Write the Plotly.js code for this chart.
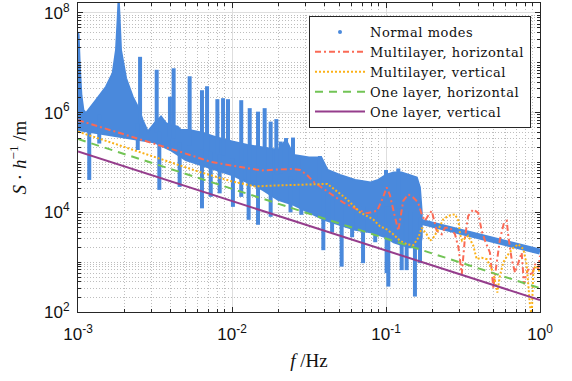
<!DOCTYPE html>
<html><head><meta charset="utf-8">
<script src="https://cdn.plot.ly/plotly-3.0.1.min.js"></script>
<style>html,body{margin:0;padding:0;background:#fff}#chart{width:572px;height:381px}
.legendtext{letter-spacing:0.55px}</style>
</head><body><div id="chart"></div>
<script>
// ---- Data (log10 values of f [Hz] and S [h^-1 m]) ----
// Normal modes: dense cloud, described by its core band, its peaks/dips and its high-f tail
const nmUpperLogF = [-3.0,-2.996,-2.988,-2.978,-2.965,-2.948,-2.883,-2.818,-2.775,-2.753,-2.742,-2.736,-2.730,-2.721,-2.688,-2.645,-2.612,-2.580,-2.547,-2.50,-2.461,-2.429,-2.40,-2.353,-2.331,-2.28,-2.2,-2.1,-2.0,-1.9,-1.8,-1.7,-1.65,-1.6,-1.5,-1.42,-1.38,-1.3,-1.2,-1.1,-1.05,-1.0,-0.95,-0.9,-0.85,-0.8,-0.78,-0.768];
const nmUpperLogS = [7.62,7.55,6.9,6.35,6.05,5.99,6.25,6.52,6.79,7.26,7.9,8.3,7.9,7.26,6.69,6.32,6.12,5.85,5.62,5.80,5.92,5.79,5.75,5.72,5.65,5.65,5.6,5.5,5.42,5.35,5.3,5.25,5.45,5.15,5.1,5.1,4.85,4.75,4.65,4.6,4.65,4.75,4.8,4.8,4.75,4.7,4.5,4.0];
const nmLowerLogF = [-3.0,-2.9,-2.8,-2.7,-2.6,-2.5,-2.4,-2.3,-2.2,-2.1,-2.0,-1.9,-1.8,-1.7,-1.6,-1.5,-1.4,-1.3,-1.2,-1.1,-1.0,-0.95,-0.85,-0.78,-0.768];
const nmLowerLogS = [5.65,5.6,5.55,5.5,5.45,5.4,5.25,5.05,4.95,4.85,4.75,4.6,4.45,4.25,4.15,4.0,3.85,3.75,3.65,3.6,3.5,3.4,3.3,3.3,3.5];
const nmPeakLogF = [-2.597,-2.489,-2.403,-2.379,-2.275,-2.195,-2.162,-2.095,-2.058,-2.026,-1.940,-1.885,-1.831,-1.788,-1.749,-1.712,-1.684,-1.649,-1.604,-1.569,-1.429,-1.0,-0.92];
const nmPeakLogS = [7.12,6.86,6.32,6.89,6.73,6.45,6.53,6.27,6.29,6.27,6.25,6.09,6.02,6.09,5.82,5.87,5.42,5.49,5.5,5.08,5.13,4.85,4.88];
const nmDipLogF = [-2.927,-2.862,-2.612,-2.472,-2.385,-2.340,-2.195,-2.138,-2.080,-1.994,-1.940,-1.892,-1.831,-1.749,-1.62,-1.55,-1.407,-1.35,-1.288,-1.22,-1.149,-1.07,-0.996,-0.985,-0.898,-0.866,-0.812,-0.779];
const nmDipLogS = [4.65,5.38,5.25,4.45,5.32,4.51,4.08,4.31,4.38,4.11,4.31,3.85,3.75,3.91,4.0,3.95,3.24,3.6,2.91,3.5,2.98,3.4,2.78,2.51,2.84,2.84,2.31,2.98];
const nmTailLogF = [-0.77,-0.6,-0.45,-0.3,-0.15,0.0];
const nmTailLogS = [3.81,3.68,3.57,3.44,3.33,3.21];

// Multilayer, horizontal
const mlhLogF = [-3.0,-2.7,-2.5,-2.331,-2.136,-2.0,-1.9,-1.81,-1.7,-1.6,-1.558,-1.513,-1.474,-1.429,-1.383,-1.344,-1.279,-1.188,-1.123,-1.058,-1.019,-0.996,-0.975,-0.945,-0.920,-0.888,-0.855,-0.825,-0.792,-0.768,-0.747,-0.727,-0.703,-0.671,-0.638,-0.617,-0.584,-0.552,-0.53,-0.508,-0.487,-0.466,-0.433,-0.401,-0.379,-0.357,-0.325,-0.303,-0.281,-0.260,-0.234,-0.216,-0.206,-0.184,-0.162,-0.141,-0.119,-0.104,-0.09,-0.076,-0.054,-0.032,-0.011,0];
const mlhLogS = [5.85,5.57,5.38,5.21,5.01,4.94,4.88,4.84,4.86,4.87,4.85,4.75,4.62,4.52,4.43,4.33,4.2,4.06,3.98,4.03,4.3,4.5,4.35,3.95,3.63,4.23,4.36,4.3,4.2,3.96,3.83,3.93,4.03,3.63,3.56,3.69,3.69,3.56,3.3,2.76,3.5,3.93,4.06,3.99,3.63,3.43,3.19,2.49,3.0,3.46,3.79,3.83,3.53,3.06,2.79,3.0,3.19,2.56,2.75,2.86,2.73,2.96,2.86,3.13];
// Multilayer, vertical
const mlvLogF = [-3.0,-2.5,-2.2,-2.0,-1.85,-1.7,-1.5,-1.38,-1.318,-1.253,-1.169,-1.084,-1.039,-0.996,-0.953,-0.909,-0.866,-0.823,-0.790,-0.768,-0.736,-0.714,-0.693,-0.660,-0.628,-0.595,-0.552,-0.530,-0.519,-0.506,-0.466,-0.433,-0.411,-0.379,-0.346,-0.325,-0.303,-0.277,-0.260,-0.238,-0.206,-0.173,-0.141,-0.108,-0.087,-0.065,-0.054,-0.043,-0.022,0];
const mlvLogS = [5.62,5.11,4.80,4.62,4.52,4.54,4.56,4.57,4.42,4.26,4.0,3.86,3.72,3.66,3.56,3.43,3.36,3.34,3.49,3.69,3.56,3.43,3.49,3.66,3.86,3.93,3.96,3.83,3.56,3.43,3.53,3.33,3.06,3.09,3.06,2.93,2.79,2.39,2.73,3.0,3.16,3.29,3.36,3.26,2.96,2.13,1.9,2.86,2.93,2.79];
// One layer, horizontal / vertical (straight lines on log-log axes)
const olhF = [1e-3, 1];
const olhS = [2.95e5, 300];
const olvF = [1e-3, 1];
const olvS = [1.66e5, 174];

// Axis ticks
const xTickVals = [1e-3, 1e-2, 1e-1, 1];
const xTickText = ['10<sup>-3</sup>','10<sup>-2</sup>','10<sup>-1</sup>','10<sup>0</sup>'];
const yTickVals = [1e2, 1e4, 1e6, 1e8];
const yTickText = ['10<sup>2</sup>','10<sup>4</sup>','10<sup>6</sup>','10<sup>8</sup>'];

// ---- build ----
const p10 = v => Math.pow(10, v);
const BLUE = '#4a89dc';

const bandX = nmUpperLogF.concat(nmLowerLogF.slice().reverse()).map(p10);
const bandY = nmUpperLogS.concat(nmLowerLogS.slice().reverse()).map(p10);

function interp(xa, ya, x) {
  for (let i = 0; i < xa.length - 1; i++) {
    if (x >= xa[i] && x <= xa[i+1]) {
      const t = (x - xa[i]) / (xa[i+1] - xa[i] || 1);
      return ya[i] + t * (ya[i+1] - ya[i]);
    }
  }
  return ya[ya.length - 1];
}
const midBand = lf => 0.5 * (interp(nmUpperLogF, nmUpperLogS, lf) + interp(nmLowerLogF, nmLowerLogS, lf));
function segs(fArr, tipArr) {
  const xs = [], ys = [];
  fArr.forEach((lf, i) => {
    xs.push(p10(lf), p10(lf), null);
    ys.push(p10(midBand(lf)), p10(tipArr[i]), null);
  });
  return {xs, ys};
}
const peaks = segs(nmPeakLogF, nmPeakLogS);
const dips = segs(nmDipLogF, nmDipLogS);

const traces = [
  {x: bandX, y: bandY, mode: 'lines', fill: 'toself', fillcolor: BLUE,
   line: {color: BLUE, width: 2}, showlegend: false, hoverinfo: 'skip'},
  {x: peaks.xs, y: peaks.ys, mode: 'lines', line: {color: BLUE, width: 4}, showlegend: false, connectgaps: false},
  {x: dips.xs, y: dips.ys, mode: 'lines', line: {color: BLUE, width: 4}, showlegend: false, connectgaps: false},
  {x: nmTailLogF.map(p10), y: nmTailLogS.map(p10), mode: 'lines', line: {color: BLUE, width: 6}, showlegend: false},
  {x: [null], y: [null], mode: 'markers', name: 'Normal modes', marker: {color: BLUE, size: 4}},
  {x: mlhLogF.map(p10), y: mlhLogS.map(p10), mode: 'lines', name: 'Multilayer, horizontal',
   line: {color: '#fa6a55', width: 2, dash: '6px,3px,2px,3px'}},
  {x: mlvLogF.map(p10), y: mlvLogS.map(p10), mode: 'lines', name: 'Multilayer, vertical',
   line: {color: '#fbb117', width: 2, dash: '2px,2px'}},
  {x: olhF, y: olhS, mode: 'lines', name: 'One layer, horizontal',
   line: {color: '#72c455', width: 2, dash: '8px,6px'}},
  {x: olvF, y: olvS, mode: 'lines', name: 'One layer, vertical',
   line: {color: '#953d8c', width: 2}}
];

const xMinor = [];
for (let d = -3; d <= -1; d++) for (let k = 2; k <= 9; k++) xMinor.push(k * Math.pow(10, d));
const yMinor = [];
for (let d = 2; d <= 8; d++) for (let k = 1; k <= 9; k++) { if (k === 1 && d % 2 === 0) continue; yMinor.push(k * Math.pow(10, d)); }

const AX = '#262626';
const axisCommon = {
  type: 'log', showline: true, linecolor: AX, linewidth: 1, mirror: 'allticks',
  ticks: 'inside', ticklen: 5, tickcolor: AX, tickwidth: 1,
  showgrid: true, gridcolor: '#dedede', gridwidth: 1, zeroline: false,
  tickfont: {family: 'Liberation Sans, Arial, sans-serif', size: 17, color: '#111'},
  tickmode: 'array'
};
const minorCommon = {tickmode: 'array', ticks: 'inside', ticklen: 3, tickcolor: AX,
  showgrid: true, gridcolor: '#bdbdbd', griddash: '1px,2px', gridwidth: 1};

const layout = {
  width: 572, height: 381,
  margin: {l: 78, r: 32, t: 3, b: 69},
  paper_bgcolor: '#fff', plot_bgcolor: '#fff',
  showlegend: true,
  xaxis: Object.assign({}, axisCommon, {
    range: [-3, 0], tickvals: xTickVals, ticktext: xTickText, ticklabelstandoff: 7,
    minor: Object.assign({tickvals: xMinor}, minorCommon),
    title: {text: '<i>f</i> /Hz', font: {family: 'Liberation Serif, serif', size: 19, color: '#111'}, standoff: 10}
  }),
  yaxis: Object.assign({}, axisCommon, {
    range: [2, 8.2], tickvals: yTickVals, ticktext: yTickText, ticklabelstandoff: 4,
    minor: Object.assign({tickvals: yMinor}, minorCommon),
    title: {text: '<i>S</i> · <i>h</i><sup>−1</sup> /m', font: {family: 'Liberation Serif, serif', size: 19, color: '#111'}, standoff: 12}
  }),
  legend: {
    x: 0.5, y: 0.958, xanchor: 'left', yanchor: 'top',
    bgcolor: '#fff', bordercolor: AX, borderwidth: 1,
    font: {family: 'DejaVu Serif, serif', size: 13, color: '#111'},
    itemwidth: 50, tracegroupgap: 0
  }
};

Plotly.newPlot('chart', traces, layout, {displayModeBar: false, staticPlot: true});
</script>
</body></html>
